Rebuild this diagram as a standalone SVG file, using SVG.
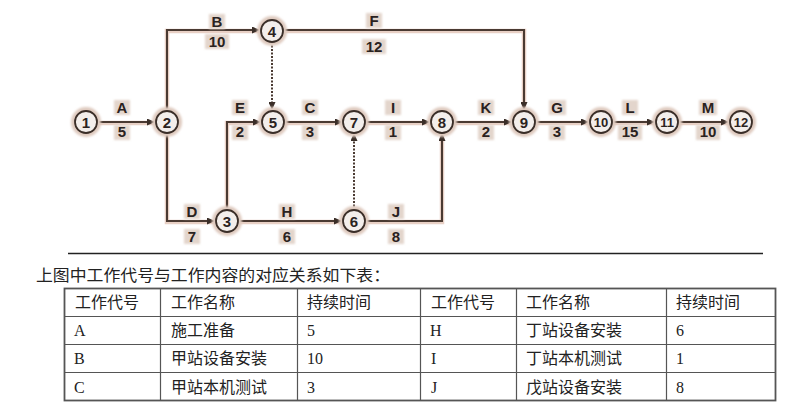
<svg xmlns="http://www.w3.org/2000/svg" width="792" height="410" viewBox="0 0 792 410">
<defs>
<marker id="arr" markerUnits="userSpaceOnUse" markerWidth="8" markerHeight="7" refX="8" refY="3.5" orient="auto">
<path d="M0,0 L8,3.5 L0,7 z" fill="#3a2e28"/>
</marker>
<filter id="fz" x="-30%" y="-30%" width="160%" height="160%"><feGaussianBlur stdDeviation="1.2"/></filter>
</defs>
<style>
.halo{fill:#dfcbc0;filter:url(#fz)}
.nc{fill:#f3eeeb;stroke:#3a2e28;stroke-width:1.8}
.nt{font-family:"Liberation Sans",Arial,sans-serif;font-weight:bold;font-size:15px;fill:#2a2220;text-anchor:middle}
.nt2{font-size:13px}
.lb{font-family:"Liberation Sans",Arial,sans-serif;font-weight:bold;font-size:15px;fill:#2a2220;text-anchor:middle}
.lh{fill:#e3d5cc;filter:url(#fz)}
.e{fill:none;stroke:#4a3a32;stroke-width:2}
.es{fill:none;stroke:#e8d0c5;stroke-width:4.5}
.d{fill:none;stroke:#4a3a32;stroke-width:2;stroke-dasharray:2,1.5}
.cn{font-family:"Liberation Serif","Noto Sans CJK SC",serif;font-size:16px;fill:#222}
.tb{fill:none;stroke:#555;stroke-width:1.2}
</style>

<g id="connectors">
<path class="es" d="M97,123 H155 M167,111 V31 H260 M283,31 H524 V110 M167,133 V222 H215 M227,210 V123 H261 M284,123 H343 M238,222 H342 M365,222 H442 V134 M365,123 H430 M453,123 H512 M535,123 H589 M612,123 H655 M678,123 H729"/>
<path class="e" marker-end="url(#arr)" d="M97,122 H155"/>
<path class="e" marker-end="url(#arr)" d="M167,111 V30 H260"/>
<path class="e" marker-end="url(#arr)" d="M283,30 H524 V110"/>
<path class="d" marker-end="url(#arr)" d="M272,42 V110"/>
<path class="e" marker-end="url(#arr)" d="M167,133 V221 H215"/>
<path class="e" marker-end="url(#arr)" d="M227,210 V122 H261"/>
<path class="e" marker-end="url(#arr)" d="M284,122 H343"/>
<path class="e" marker-end="url(#arr)" d="M238,221 H342"/>
<path class="d" marker-end="url(#arr)" d="M354,210 V133"/>
<path class="e" marker-end="url(#arr)" d="M365,221 H442 V133"/>
<path class="e" marker-end="url(#arr)" d="M365,122 H430"/>
<path class="e" marker-end="url(#arr)" d="M453,122 H512"/>
<path class="e" marker-end="url(#arr)" d="M535,122 H589"/>
<path class="e" marker-end="url(#arr)" d="M612,122 H655"/>
<path class="e" marker-end="url(#arr)" d="M678,122 H729"/>
</g>

<g id="labels">
<rect class="lh" x="114" y="100" width="16" height="15"/><text class="lb" x="122" y="113">A</text>
<rect class="lh" x="114" y="125" width="16" height="15"/><text class="lb" x="122" y="137">5</text>
<rect class="lh" x="209" y="14" width="16" height="15"/><text class="lb" x="217" y="27">B</text>
<rect class="lh" x="205" y="34" width="24" height="15"/><text class="lb" x="217" y="47">10</text>
<rect class="lh" x="366" y="13" width="16" height="15"/><text class="lb" x="374" y="26">F</text>
<rect class="lh" x="362" y="39" width="24" height="15"/><text class="lb" x="374" y="52">12</text>
<rect class="lh" x="232" y="100" width="16" height="15"/><text class="lb" x="240" y="113">E</text>
<rect class="lh" x="232" y="125" width="16" height="15"/><text class="lb" x="240" y="137">2</text>
<rect class="lh" x="302" y="100" width="16" height="15"/><text class="lb" x="310" y="113">C</text>
<rect class="lh" x="302" y="125" width="16" height="15"/><text class="lb" x="310" y="137">3</text>
<rect class="lh" x="385" y="100" width="16" height="15"/><text class="lb" x="393" y="113">I</text>
<rect class="lh" x="385" y="125" width="16" height="15"/><text class="lb" x="393" y="137">1</text>
<rect class="lh" x="478" y="100" width="16" height="15"/><text class="lb" x="486" y="113">K</text>
<rect class="lh" x="478" y="125" width="16" height="15"/><text class="lb" x="486" y="137">2</text>
<rect class="lh" x="549" y="100" width="17" height="15"/><text class="lb" x="557" y="113">G</text>
<rect class="lh" x="549" y="125" width="16" height="15"/><text class="lb" x="557" y="137">3</text>
<rect class="lh" x="622" y="100" width="16" height="15"/><text class="lb" x="630" y="113">L</text>
<rect class="lh" x="618" y="125" width="24" height="15"/><text class="lb" x="630" y="137">15</text>
<rect class="lh" x="699" y="100" width="18" height="15"/><text class="lb" x="708" y="113">M</text>
<rect class="lh" x="696" y="125" width="24" height="15"/><text class="lb" x="708" y="137">10</text>
<rect class="lh" x="184" y="204" width="16" height="15"/><text class="lb" x="192" y="217">D</text>
<rect class="lh" x="184" y="229" width="16" height="15"/><text class="lb" x="192" y="242">7</text>
<rect class="lh" x="279" y="204" width="16" height="15"/><text class="lb" x="287" y="217">H</text>
<rect class="lh" x="279" y="229" width="16" height="15"/><text class="lb" x="287" y="242">6</text>
<rect class="lh" x="388" y="204" width="16" height="15"/><text class="lb" x="396" y="217">J</text>
<rect class="lh" x="388" y="229" width="16" height="15"/><text class="lb" x="396" y="242">8</text>
</g>

<g id="n1"><circle class="halo" cx="86" cy="122" r="15"/><circle class="nc" cx="86" cy="122" r="11"/><text class="nt" x="86" y="127.5">1</text></g>
<g id="n2"><circle class="halo" cx="167" cy="122" r="15"/><circle class="nc" cx="167" cy="122" r="11"/><text class="nt" x="167" y="127.5">2</text></g>
<g id="n3"><circle class="halo" cx="227" cy="221" r="15"/><circle class="nc" cx="227" cy="221" r="11"/><text class="nt" x="227" y="226.5">3</text></g>
<g id="n4"><circle class="halo" cx="272" cy="31" r="15"/><circle class="nc" cx="272" cy="31" r="11"/><text class="nt" x="272" y="36.5">4</text></g>
<g id="n5"><circle class="halo" cx="273" cy="122" r="15"/><circle class="nc" cx="273" cy="122" r="11"/><text class="nt" x="273" y="127.5">5</text></g>
<g id="n6"><circle class="halo" cx="354" cy="221" r="15"/><circle class="nc" cx="354" cy="221" r="11"/><text class="nt" x="354" y="226.5">6</text></g>
<g id="n7"><circle class="halo" cx="354" cy="122" r="15"/><circle class="nc" cx="354" cy="122" r="11"/><text class="nt" x="354" y="127.5">7</text></g>
<g id="n8"><circle class="halo" cx="442" cy="122" r="15"/><circle class="nc" cx="442" cy="122" r="11"/><text class="nt" x="442" y="127.5">8</text></g>
<g id="n9"><circle class="halo" cx="524" cy="122" r="15"/><circle class="nc" cx="524" cy="122" r="11"/><text class="nt" x="524" y="127.5">9</text></g>
<g id="n10"><circle class="halo" cx="601" cy="122" r="15"/><circle class="nc" cx="601" cy="122" r="11"/><text class="nt nt2" x="601" y="127">10</text></g>
<g id="n11"><circle class="halo" cx="667" cy="122" r="15"/><circle class="nc" cx="667" cy="122" r="11"/><text class="nt nt2" x="667" y="127">11</text></g>
<g id="n12"><circle class="halo" cx="741" cy="122" r="15"/><circle class="nc" cx="741" cy="122" r="11"/><text class="nt nt2" x="741" y="127">12</text></g>

<g id="caption">
<line x1="68" y1="253.5" x2="763" y2="253.5" stroke="#222" stroke-width="1.5"/>
<text class="cn" x="36" y="281" textLength="354" lengthAdjust="spacingAndGlyphs">上图中工作代号与工作内容的对应关系如下表：</text>
</g>

<g id="table">
<rect x="64.5" y="288.5" width="711" height="112" fill="none" stroke="#555" stroke-width="1.8"/>
<path class="tb" d="M64,316.5 H776 M64,344.5 H776 M64,372.5 H776 M160.5,288 V401 M297.5,288 V401 M420.5,288 V401 M516.5,288 V401 M666.5,288 V401"/>
<g class="cn">
<text x="75" y="308">工作代号</text><text x="171" y="308">工作名称</text><text x="307" y="308">持续时间</text>
<text x="431" y="308">工作代号</text><text x="526" y="308">工作名称</text><text x="676" y="308">持续时间</text>
<text x="74" y="336">A</text><text x="171" y="336">施工准备</text><text x="307" y="336">5</text>
<text x="430" y="336">H</text><text x="526" y="336">丁站设备安装</text><text x="676" y="336">6</text>
<text x="74" y="364">B</text><text x="171" y="364">甲站设备安装</text><text x="307" y="364">10</text>
<text x="431" y="364">I</text><text x="526" y="364">丁站本机测试</text><text x="676" y="364">1</text>
<text x="74" y="393">C</text><text x="171" y="393">甲站本机测试</text><text x="307" y="393">3</text>
<text x="431" y="393">J</text><text x="526" y="393">戊站设备安装</text><text x="676" y="393">8</text>
</g>
</g>
</svg>
